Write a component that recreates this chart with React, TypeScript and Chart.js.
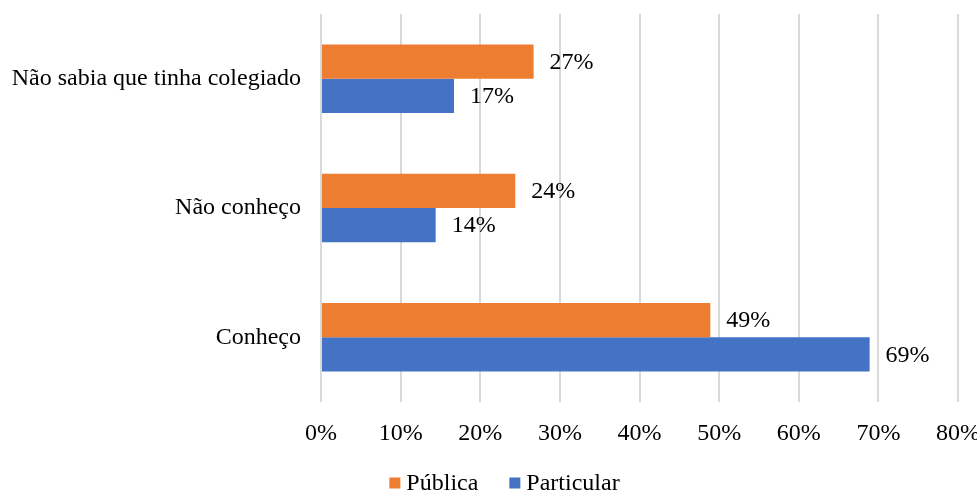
import React, { useEffect, useRef } from "react";
import { Chart, registerables } from "chart.js";

Chart.register(...registerables);

const categories = ["Não sabia que tinha colegiado", "Não conheço", "Conheço"];
const publicaValues = [26.7, 24.4, 48.9];
const particularValues = [16.7, 14.4, 68.9];
const seriesNames = ["Pública", "Particular"];
const seriesColors = ["#ED7D31", "#4472C4"];
const xTicksMax = 80;
const xTickStep = 10;

const FONT = "'Liberation Serif', 'Times New Roman', serif";

const valueLabels = {
  id: "valueLabels",
  afterDatasetsDraw(chart: any) {
    const ctx = chart.ctx;
    ctx.save();
    ctx.font = `24px ${FONT}`;
    ctx.fillStyle = "#000";
    ctx.textAlign = "left";
    ctx.textBaseline = "middle";
    chart.data.datasets.forEach((ds: any, di: number) => {
      const meta = chart.getDatasetMeta(di);
      meta.data.forEach((bar: any, i: number) => {
        const v = ds.data[i];
        ctx.fillText(Math.round(v) + "%", bar.x + 16, bar.y + 1);
      });
    });
    ctx.restore();
  },
};

const customLegend = {
  id: "customLegend",
  afterDraw(chart: any) {
    const ctx = chart.ctx;
    ctx.save();
    ctx.font = `24px ${FONT}`;
    ctx.textBaseline = "middle";
    ctx.textAlign = "left";
    const box = 11;
    const gap = 6;
    const itemGap = 31;
    const items = chart.data.datasets.map((ds: any) => ({
      text: ds.label,
      color: ds.backgroundColor,
      w: ctx.measureText(ds.label).width,
    }));
    const total =
      items.reduce((s: number, it: any) => s + box + gap + it.w, 0) +
      itemGap * (items.length - 1);
    let x = chart.width / 2 + 16 - total / 2;
    const y = chart.height - 9;
    items.forEach((it: any) => {
      ctx.fillStyle = it.color;
      ctx.fillRect(x, y - box / 2, box, box);
      x += box + gap;
      ctx.fillStyle = "#000";
      ctx.fillText(it.text, x, y + 1);
      x += it.w + itemGap;
    });
    ctx.restore();
  },
};

export default function App() {
  const ref = useRef<HTMLCanvasElement>(null);
  useEffect(() => {
    if (!ref.current) return;
    const chart = new Chart(ref.current, {
      type: "bar",
      data: {
        labels: categories,
        datasets: [
          {
            label: seriesNames[0],
            data: publicaValues,
            backgroundColor: seriesColors[0],
            categoryPercentage: 0.53,
            barPercentage: 1.0,
          },
          {
            label: seriesNames[1],
            data: particularValues,
            backgroundColor: seriesColors[1],
            categoryPercentage: 0.53,
            barPercentage: 1.0,
          },
        ],
      },
      options: {
        indexAxis: "y",
        animation: false,
        responsive: false,
        maintainAspectRatio: false,
        layout: { padding: { top: 14, right: 19, left: 0, bottom: 40 } },
        plugins: {
          legend: { display: false },
          tooltip: { enabled: false },
        },
        scales: {
          x: {
            min: 0,
            max: xTicksMax,
            ticks: {
              stepSize: xTickStep,
              callback: (v: any) => v + "%",
              font: { family: FONT, size: 24 },
              color: "#000",
              padding: 17,
              maxRotation: 0,
            },
            grid: { color: "#D9D9D9", lineWidth: 2, drawTicks: false },
            border: { display: false },
            afterFit: (s: any) => {
              s.height = 50;
              s.paddingLeft = 0;
              s.paddingRight = 0;
            },
          },
          y: {
            ticks: {
              font: { family: FONT, size: 24 },
              color: "#000",
              padding: 20,
            },
            grid: { display: false, drawTicks: false },
            border: { display: false },
            afterFit: (s: any) => {
              s.width = 321;
              s.paddingTop = 0;
              s.paddingBottom = 0;
            },
          },
        },
      },
      plugins: [valueLabels, customLegend],
    });
    return () => chart.destroy();
  }, []);
  return (
    <div style={{ position: "fixed", left: 0, top: 0, width: 977, height: 492, background: "#fff" }}>
      <canvas ref={ref} width={977} height={492} style={{ width: 977, height: 492 }} />
    </div>
  );
}
